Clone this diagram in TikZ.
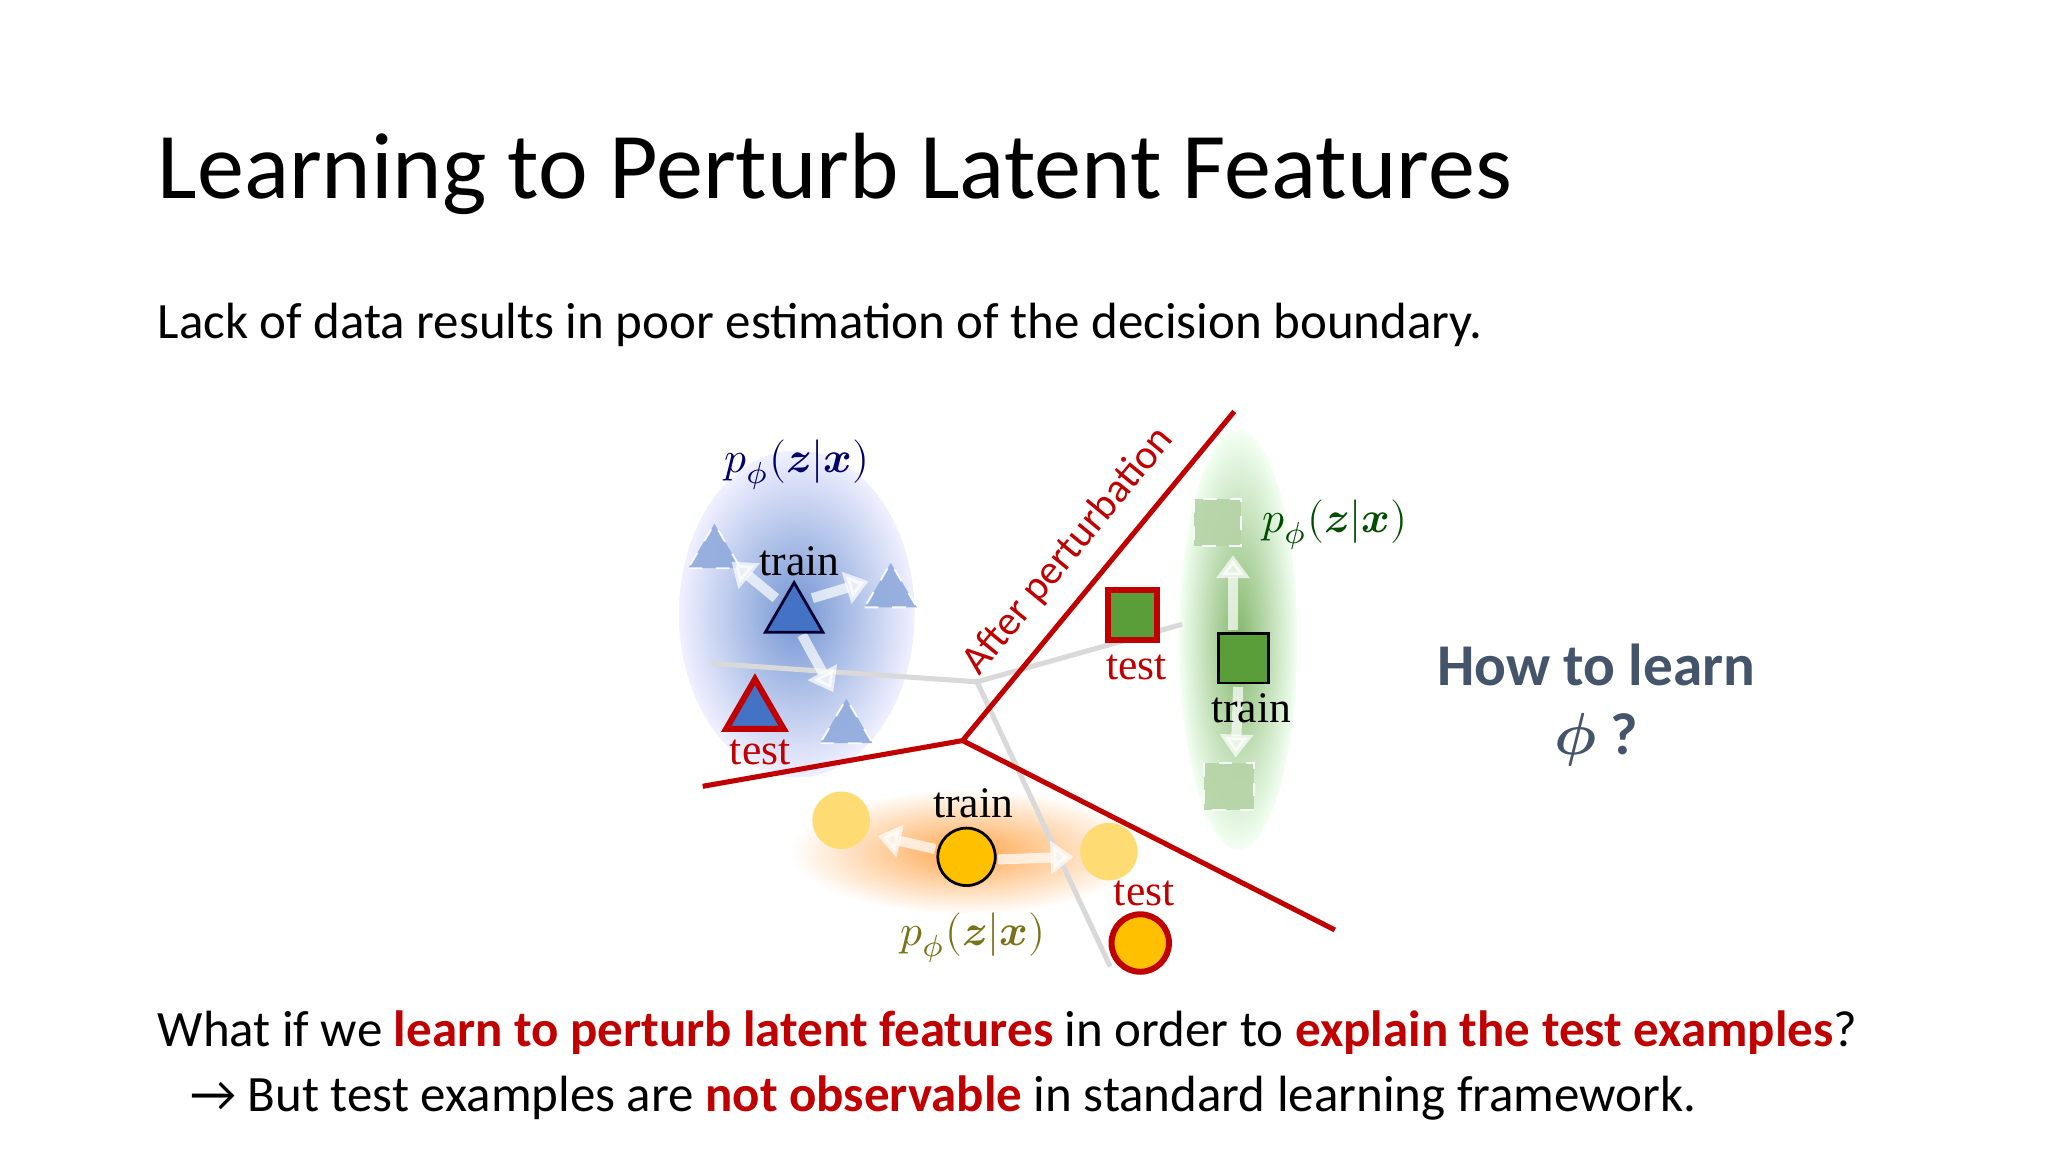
\documentclass[tikz,border=0pt]{standalone}
\usepackage{fontspec}
\setmainfont{Carlito}
\newfontfamily\serif{Liberation Serif}
\usepackage{unicode-math}
\setmathfont{Latin Modern Math}
\usetikzlibrary{arrows.meta}
\definecolor{dred}{HTML}{C00000}
\definecolor{slate}{HTML}{44546A}
\definecolor{bfill}{HTML}{4472C4}
\definecolor{gfill}{HTML}{5A9E3A}
\definecolor{ofill}{HTML}{FFC000}
\tikzset{
  lbl/.style={font=\fontsize{9.5pt}{10pt}\selectfont\serif},
  bound/.style={draw=dred,line width=1.1pt},
  gbound/.style={draw=black!15,line width=1.1pt},
  wa/.style={draw=white,opacity=0.7,line width=2.2pt,-{Triangle[length=5pt,width=7pt]}},
  ghost/.style={draw=white,dashed,line width=0.4pt,opacity=0.9},
}
\newcommand{\pz}{$p_{\phi}(\symbfit{z}|\symbfit{x})$}
\begin{document}
\begin{tikzpicture}[x=0.1mm,y=-0.1mm]
\fill[white] (0,0) rectangle (1568,882);
\useasboundingbox (0,0) rectangle (1568,882);
% title
\node[anchor=base west,inner sep=0,font=\fontsize{20.5pt}{22pt}\selectfont] (title) at (120,152) {Learning to Perturb Latent Features};
\node[anchor=base west,inner sep=0,font=\fontsize{11.1pt}{13pt}\selectfont] (sub) at (120,259) {Lack of data results in poor estimation of the decision boundary.};
% clouds
\fill[blue!8] (610,470) ellipse (90 and 125);
\shade[inner color=bfill!75,outer color=blue!6] (610,470) ellipse (90 and 125);
\fill[green!8] (948,490) ellipse (45 and 160);
\shade[inner color=gfill!75,outer color=green!5] (948,490) ellipse (45 and 160);
\shade[inner color=orange!70,outer color=white] (740,652) ellipse (135 and 48);
% gray boundaries
\coordinate (gc) at (748,522);
\coordinate (g1) at (545,508);
\coordinate (g2) at (905,478);
\coordinate (g3) at (850,740);
\draw[gbound] (g1) -- (gc) -- (g2);
\draw[gbound] (gc) -- (g3);
% red boundaries
\coordinate (rc) at (737,567);
\coordinate (r1) at (538,602);
\coordinate (r2) at (945,315);
\coordinate (r3) at (1022,712);
\draw[bound] (r1) -- (rc) -- (r2);
\draw[bound] (rc) -- (r3);
\node[rotate=50.5,text=dred,font=\fontsize{9pt}{9pt}\selectfont] (after) at (818,422) {After perturbation};
% blue triangles
\foreach \n/\x/\y in {ta/547/418,tb/682/448,tc/648/552}
  \fill[bfill!60,ghost] (\x-20,\y+17) -- (\x+20,\y+17) -- (\x,\y-17) -- cycle;
\coordinate (tm) at (608,465);
\draw[wa] (594,458) -- (560,430);
\draw[wa] (622,458) -- (665,445);
\draw[wa] (614,486) -- (638,530);
\draw[fill=bfill,draw=black!80!blue,line width=0.6pt] (586,484) -- (630,484) -- (608,446) -- cycle;
\draw[fill=bfill,draw=dred,line width=1.3pt] (556,558) -- (600,558) -- (578,520) -- cycle;
\node[lbl] (trb) at (612,430) {train};
\node[lbl,text=dred] (teb) at (582,576) {test};
\node[lbl,text=blue!40!black] (pb) at (610,356) {\pz};
% green squares
\fill[gfill!45,ghost] (914,382) rectangle (950,418);
\fill[gfill!45,ghost] (922,584) rectangle (960,620);
\draw[wa] (944,482) -- (944,425);
\draw[wa] (948,526) -- (946,580);
\draw[fill=gfill,draw=black,line width=0.6pt] (933,485) rectangle (971,523);
\draw[fill=gfill,draw=dred,line width=1.3pt] (848,452) rectangle (886,490);
\node[lbl,text=dred] (teg) at (870,511) {test};
\node[lbl] (trg) at (958,542) {train};
\node[lbl,text=green!30!black] (pg) at (1022,402) {\pz};
% orange circles
\fill[ofill!55] (644,628) circle (22);
\fill[ofill!55] (849,652) circle (22);
\draw[wa] (716,650) -- (672,640);
\draw[wa] (764,658) -- (822,656);
\draw[fill=ofill,draw=black,line width=0.6pt] (740,656) circle (22);
\draw[fill=ofill,draw=dred,line width=1.3pt] (873,722) circle (22);
\node[lbl] (tro) at (745,615) {train};
\node[lbl,text=dred] (teo) at (876,684) {test};
\node[lbl,text=olive!80!black] (po) at (745,718) {\pz};
% how to learn
\node[text=slate,font=\fontsize{12.9pt}{15pt}\selectfont\bfseries,align=center] (how) at (1222,540) {How to learn\\[0pt]$\symbfit{\phi}$ ?};
% bottom
\node[anchor=base west,inner sep=0,font=\fontsize{11.1pt}{13pt}\selectfont] (b1) at (120,801) {What if we \textcolor{dred}{\textbf{learn to perturb latent features}} in order to \textcolor{dred}{\textbf{explain the test examples}}?};
\node[anchor=base west,inner sep=0,font=\fontsize{11.1pt}{13pt}\selectfont] (b2) at (145,851) {→ But test examples are \textcolor{dred}{\textbf{not observable}} in standard learning framework.};
\end{tikzpicture}
\end{document}
